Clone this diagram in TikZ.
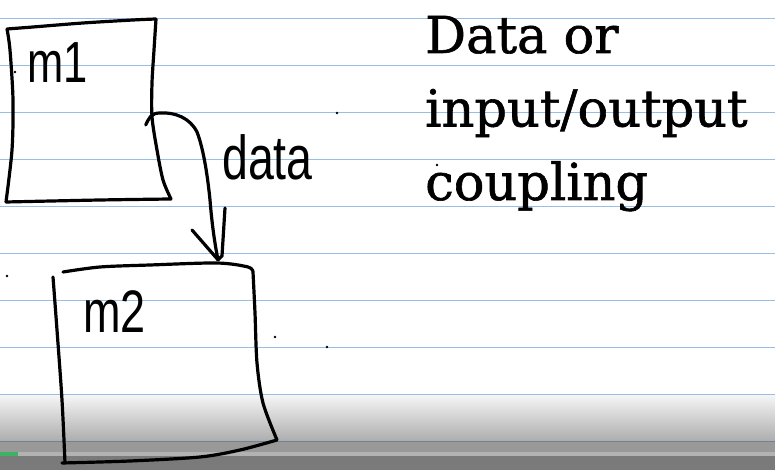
\documentclass[tikz,border=0pt]{standalone}
\usepackage{fontspec}
\usepackage{tikz}
\usetikzlibrary{arrows.meta, positioning}
\newfontfamily\slabfont[FakeBold=1.2]{DejaVu Serif}
\newfontfamily\handfont[FakeStretch=0.75]{Liberation Sans}
\definecolor{ruleblue}{RGB}{152,190,230}
\definecolor{barblue}{RGB}{112,130,150}
\definecolor{progress}{RGB}{60,178,100}

\begin{document}
\begin{tikzpicture}[
    x=1pt, y=1pt,
    rule/.style={
        draw=ruleblue,
        line width=1.7pt
    },
    sketch/.style={
        draw=black,
        line width=3.2pt,
        line cap=round,
        line join=round
    },
    box/.style={
        draw=none,
        inner sep=0pt,
        minimum width=165pt,
        minimum height=183pt
    },
    hand/.style={
        font=\handfont\fontsize{#1}{#1}\selectfont,
        inner sep=0pt,
        anchor=base west
    },
    heading/.style={
        font=\slabfont\fontsize{51}{60}\selectfont,
        inner sep=0pt,
        anchor=base west
    }
]

% Paper
\fill[white] (0,0) rectangle (775,470);
\useasboundingbox (0,0) rectangle (775,470);
\foreach \k in {0,...,9}
    \draw[rule] (0,451.5-47*\k) -- (775,451.5-47*\k);

% Player bar
\shade[top color=black!4, bottom color=black!32] (0,29.4) rectangle (775,74.6);
\draw[barblue, line width=1.7pt] (0,28.5) -- (775,28.5);
\fill[black!40] (0,18) rectangle (775,27.6);
\fill[black!30] (0,14) rectangle (775,18);
\fill[progress] (0,14) rectangle (18,18);
\fill[black!52] (0,0) rectangle (775,14);

% Nodes
\node[box] (m1) at (88.5,360) {};
\node[box, minimum width=222pt, minimum height=200pt] (m2) at (166,107) {};
\node[hand=58] (m1label) at ([shift={(21,-64.5)}]m1.north west) {m1};
\node[hand=60] (m2label) at ([shift={(28,-70)}]m2.north west) {m2};
\node[hand=62] (datalabel) at (222,290) {data};
\node[heading] (title1) at (425,417) {Data or};
\node[heading] (title2) at ([yshift=-73.5]title1.base west) {input/output};
\node[heading] (title3) at ([yshift=-73.5]title2.base west) {coupling};

% Boxes
\draw[sketch]
    plot[smooth] coordinates {(7,441) (33,443) (83,447) (133,450) (156,451)}
    plot[smooth] coordinates {(156,451) (154,420) (152,387) (152,353) (157,320) (163,290) (171,271)}
    plot[smooth] coordinates {(171,271) (100,270) (6,268)}
    plot[smooth] coordinates {(6,268) (12,320) (13,370) (10,420) (7,441)};
\draw[sketch]
    plot[smooth] coordinates {(63,198) (100,203) (150,205) (217,207) (248,203) (253,198)}
    plot[smooth] coordinates {(253,198) (255,157) (257,107) (263,67) (277,30)}
    plot[smooth] coordinates {(277,30) (240,20) (200,13) (130,9) (62,7)}
    plot[smooth] coordinates {(53,193) (57,140) (62,70) (65,7)};

% Paths
\coordinate (m1out) at ([shift={(-25.5,-15)}]m1.east);
\coordinate (m2in) at ([shift={(52,3)}]m2.north);
\draw[sketch] (m1out) .. controls (149,352) and (151,357) .. (160,357)
    .. controls (175,358) and (190,352) .. (197,338)
    .. controls (204,320) and (208,290) .. (210,270)
    .. controls (212,245) and (215,225) .. (m2in);
\draw[sketch] (192,240) -- (m2in);
\draw[sketch] (225,262) -- (222,214) -- (m2in);

% Stray dots
\foreach \p in {(15,398), (337,357), (7,194), (275,133), (327,123), (437,305)}
    \fill \p circle (1.4);

\end{tikzpicture}
\end{document}
